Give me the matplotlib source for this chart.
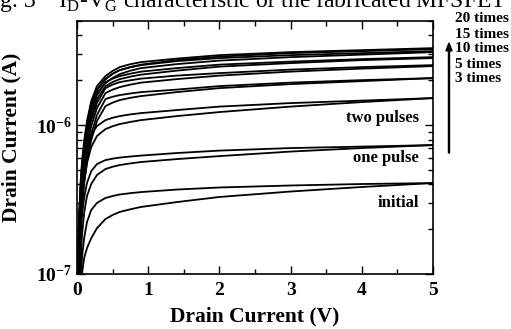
import matplotlib
matplotlib.use("Agg")
import matplotlib.pyplot as plt
from matplotlib.patches import FancyArrow
from matplotlib.ticker import FixedLocator, NullFormatter, LogLocator

plt.rcParams["font.family"] = "Liberation Serif"
plt.rcParams["mathtext.fontset"] = "custom"
plt.rcParams["mathtext.rm"] = "Liberation Serif"
plt.rcParams["mathtext.bf"] = "Liberation Serif:bold"

# drain voltage (V) at which each curve was read
vd = [0.01, 0.02, 0.03, 0.05, 0.07, 0.10, 0.14, 0.20, 0.28, 0.40,
      0.50, 0.60, 0.75, 0.90, 1.4, 2.0, 3.0, 4.0, 5.0]

# drain current in uA, two sweeps per state (upper / lower branch)
id_20_a = [0.086, 0.169, 0.253, 0.414, 0.565, 0.781, 1.064, 1.449, 1.827, 2.133, 2.31, 2.451, 2.565, 2.648, 2.795, 2.949, 3.090, 3.186, 3.287]
id_20_b = [0.078, 0.149, 0.223, 0.366, 0.507, 0.701, 0.970, 1.341, 1.718, 2.035, 2.21, 2.339, 2.455, 2.547, 2.731, 2.882, 3.042, 3.137, 3.236]
id_15_a = [0.080, 0.159, 0.238, 0.390, 0.539, 0.746, 1.016, 1.383, 1.744, 2.035, 2.21, 2.339, 2.445, 2.527, 2.689, 2.817, 2.949, 3.042, 3.137]
id_15_b = [0.073, 0.143, 0.213, 0.350, 0.484, 0.669, 0.926, 1.280, 1.640, 1.913, 2.07, 2.199, 2.32, 2.413, 2.567, 2.710, 2.860, 2.972, 3.090]
id_10_a = [0.072, 0.143, 0.213, 0.350, 0.484, 0.669, 0.911, 1.242, 1.590, 1.943, 2.05, 2.133, 2.215, 2.286, 2.413, 2.547, 2.668, 2.773, 2.860]
id_10_b = [0.067, 0.128, 0.191, 0.314, 0.434, 0.600, 0.831, 1.149, 1.495, 1.827, 1.945, 2.035, 2.115, 2.182, 2.321, 2.470, 2.607, 2.731, 2.817]
id_5_a = [0.067, 0.124, 0.186, 0.304, 0.421, 0.582, 0.793, 1.080, 1.405, 1.771, 1.87, 1.943, 2.00, 2.051, 2.149, 2.234, 2.358, 2.451, 2.527]
id_5_b = [0.067, 0.110, 0.164, 0.269, 0.372, 0.514, 0.712, 0.985, 1.300, 1.640, 1.73, 1.799, 1.87, 1.928, 2.035, 2.149, 2.286, 2.394, 2.489]
id_3_a = [0.067, 0.0985, 0.147, 0.241, 0.334, 0.462, 0.629, 0.870, 1.167, 1.495, 1.55, 1.590, 1.63, 1.665, 1.731, 1.827, 1.928, 2.004, 2.067]
id_3_b = [0.067, 0.087, 0.130, 0.213, 0.295, 0.408, 0.565, 0.793, 1.064, 1.341, 1.415, 1.472, 1.525, 1.566, 1.665, 1.771, 1.884, 1.973, 2.067]
id_two_a = [0.067, 0.110, 0.164, 0.261, 0.366, 0.514, 0.680, 0.857, 0.985, 1.080, 1.12, 1.149, 1.18, 1.204, 1.261, 1.331, 1.405, 1.460, 1.518]
id_two_b = [0.067, 0.084, 0.124, 0.203, 0.290, 0.408, 0.556, 0.712, 0.844, 0.940, 0.982, 1.016, 1.05, 1.080, 1.149, 1.223, 1.331, 1.427, 1.518]
id_one_a = [0.067, 0.067, 0.103, 0.174, 0.249, 0.324, 0.408, 0.491, 0.547, 0.582, 0.595, 0.605, 0.615, 0.624, 0.649, 0.674, 0.701, 0.717, 0.734]
id_one_b = [0.067, 0.067, 0.067, 0.120, 0.180, 0.257, 0.334, 0.402, 0.462, 0.507, 0.525, 0.539, 0.553, 0.565, 0.591, 0.619, 0.664, 0.701, 0.734]
id_init_a = [0.067, 0.067, 0.067, 0.091, 0.128, 0.174, 0.223, 0.269, 0.300, 0.324, 0.334, 0.342, 0.349, 0.355, 0.369, 0.381, 0.393, 0.402, 0.408]
id_init_b = [0.067, 0.067, 0.067, 0.067, 0.100, 0.128, 0.149, 0.174, 0.203, 0.234, 0.249, 0.261, 0.272, 0.282, 0.304, 0.329, 0.358, 0.384, 0.408]

curves = [id_20_a, id_20_b, id_15_a, id_15_b, id_10_a, id_10_b, id_5_a, id_5_b,
          id_3_a, id_3_b, id_two_a, id_two_b, id_one_a, id_one_b, id_init_a, id_init_b]

inside_labels = ["two pulses", "one pulse", "initial"]
side_labels = ["20 times", "15 times", "10 times", "5 times", "3 times"]

fig = plt.figure(figsize=(5.11, 3.29), dpi=100)
ax = fig.add_axes([77 / 511, 1 - 274 / 329, 356 / 511, 253 / 329])

for cur in curves:
    ax.plot(vd, [c * 1e-6 for c in cur], color="black", linewidth=1.3)

ax.set_yscale("log")
ax.set_xlim(0, 5)
ax.set_ylim(1e-7, 5e-6)

ax.set_xticks([0, 1, 2, 3, 4, 5])
ax.set_xticklabels(["0", "1", "2", "3", "4", "5"], fontsize=14, fontweight="bold")
ax.set_xticks([0.5, 1.5, 2.5, 3.5, 4.5], minor=True)
ax.yaxis.set_major_locator(FixedLocator([1e-7, 1e-6]))
ax.set_yticklabels([r"$\mathbf{10^{-7}}$", r"$\mathbf{10^{-6}}$"], fontsize=14)
ax.yaxis.set_minor_locator(LogLocator(base=10, subs=range(2, 10)))
ax.yaxis.set_minor_formatter(NullFormatter())

ax.tick_params(which="both", direction="in", top=True, right=True, width=1.0)
ax.tick_params(which="major", length=6)
ax.tick_params(axis="x", which="major", pad=6)
ax.tick_params(axis="y", which="major", pad=4)
ax.tick_params(which="minor", length=3.5)
for sp in ax.spines.values():
    sp.set_linewidth(1.2)

ax.set_xlabel("Drain Current (V)", fontsize=15.5, fontweight="bold", labelpad=5)
ax.set_ylabel("Drain Current (A)", fontsize=15.5, fontweight="bold", labelpad=2)
ax.yaxis.set_label_coords(-0.155, 0.54)

# curve annotations inside the frame
for lab, ypix in zip(inside_labels, [118, 158, 203]):
    fig.text(419 / 511, 1 - ypix / 329, lab, ha="right", va="center",
             fontsize=12, fontweight="bold")

# pulse count list on the right with arrow
for i, lab in enumerate(side_labels):
    fig.text(455 / 511, 1 - (19 + 15 * i) / 329, lab, ha="left", va="center",
             fontsize=11, fontweight="bold")
fig.patches.append(FancyArrow(
    449 / 511, 1 - 153 / 329, 0, (153 - 43) / 329, width=0.002,
    head_width=0.012, head_length=0.024, length_includes_head=True,
    color="black", transform=fig.transFigure, figure=fig))

fig.text(-20 / 511, 1 - 7 / 329,
         r"Fig. 3    I$_\mathrm{D}$-V$_\mathrm{G}$ characteristic of the fabricated MFSFET",
         ha="left", va="baseline", fontsize=17)

fig.savefig("out.png", dpi=100)
